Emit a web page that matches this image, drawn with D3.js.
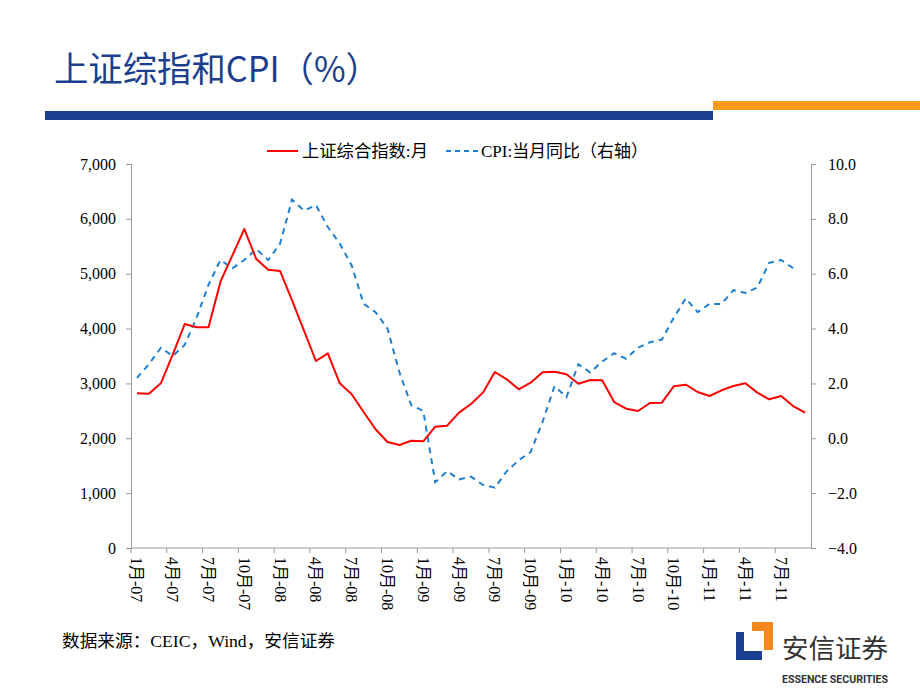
<!DOCTYPE html>
<html><head><meta charset="utf-8">
<script src="https://cdn.jsdelivr.net/npm/d3@7"></script>
<style>
html,body{margin:0;padding:0;background:#fff;}
svg{display:block;}
</style></head>
<body>
<svg id="c" width="920" height="690"></svg>
<script>
// ---- data ----
const years = ["07","08","09","10","11"];
const monthsInLastYear = 9;
const categories = [];
years.forEach((y,i)=>{const n = i===years.length-1 ? monthsInLastYear : 12; for(let m=1;m<=n;m++) categories.push(m+"月-"+y);});

const shIndex = [
  2820, 2813, 3002, 3524, 4083, 4023, 4023, 4855, 5335, 5815, 5268, 5074,
  5049, 4515, 3962, 3409, 3549, 3002, 2802, 2479, 2164, 1932, 1877, 1956,
  1944, 2212, 2230, 2467, 2625, 2832, 3208, 3075, 2893, 3014, 3202, 3214,
  3166, 2995, 3062, 3057, 2661, 2540, 2497, 2643, 2649, 2948, 2977, 2844,
  2771, 2875, 2953, 3002, 2832, 2710, 2771, 2588, 2467
];
const cpi = [
  2.2, 2.7, 3.3, 3.0, 3.4, 4.4, 5.6, 6.5, 6.2, 6.5, 6.9, 6.5,
  7.1, 8.7, 8.3, 8.5, 7.7, 7.1, 6.3, 4.9, 4.6, 4.0, 2.4, 1.2,
  1.0, -1.6, -1.2, -1.5, -1.4, -1.7, -1.8, -1.2, -0.8, -0.5, 0.6, 1.9,
  1.5, 2.7, 2.4, 2.8, 3.1, 2.9, 3.3, 3.5, 3.6, 4.4, 5.1, 4.6,
  4.9, 4.9, 5.4, 5.3, 5.5, 6.4, 6.5, 6.2
];
const leftTicks = [0,1000,2000,3000,4000,5000,6000,7000];
const rightTicks = [-4,-2,0,2,4,6,8,10];
const title = "上证综指和CPI（%）";
const legendLabels = ["上证综合指数:月", "CPI:当月同比（右轴）"];
const source = "数据来源：CEIC，Wind，安信证券";

// ---- layout ----
const svg = d3.select("#c");
const L = 131, R = 811, T = 164, B = 548;
const serif = "'Liberation Serif','Times New Roman','Noto Sans CJK SC',serif";

// header
svg.append("text").attr("x",54).attr("y",82).attr("fill","#1b3f8e")
  .attr("textLength",326).attr("lengthAdjust","spacingAndGlyphs")
  .style("font-family","'Noto Sans CJK SC',sans-serif").style("font-size","35px").style("font-weight","400")
  .text(title);
svg.append("rect").attr("x",45).attr("y",111).attr("width",668).attr("height",9).attr("fill","#1b3f8e");
svg.append("rect").attr("x",713).attr("y",101).attr("width",207).attr("height",9).attr("fill","#f99b1c");

// scales
const x = d3.scaleBand().domain(categories).range([L,R]).padding(0);
const cx = d => x(d)+x.bandwidth()/2;
const yL = d3.scaleLinear().domain([0,7000]).range([B,T]);
const yR = d3.scaleLinear().domain([-4,10]).range([B,T]);

// axes
const axisColor = "#9a9a9a";
const gL = svg.append("g").attr("transform",`translate(${L},0)`)
  .call(d3.axisLeft(yL).tickValues(leftTicks).tickFormat(d3.format(",")).tickSize(5).tickPadding(10));
const gR = svg.append("g").attr("transform",`translate(${R},0)`)
  .call(d3.axisRight(yR).tickValues(rightTicks).tickFormat(d3.format(".1f")).tickSize(5).tickPadding(12));
[gL,gR].forEach(g=>{
  g.select(".domain").attr("stroke",axisColor);
  g.selectAll(".tick line").attr("stroke",axisColor);
  g.selectAll(".tick text").attr("fill","#000").style("font-family",serif).style("font-size","16px");
});
gR.selectAll(".tick text").attr("text-anchor","start");

// bottom axis: ticks at quarter boundaries
const gB = svg.append("g");
gB.append("line").attr("x1",L).attr("x2",R).attr("y1",B).attr("y2",B).attr("stroke",axisColor);
const qb = categories.filter((d,i)=>i%3===0);
gB.selectAll("line.t").data(qb).enter().append("line").attr("class","t")
  .attr("x1",d=>x(d)).attr("x2",d=>x(d)).attr("y1",B).attr("y2",B+5).attr("stroke",axisColor);
gB.selectAll("text").data(qb).enter().append("text")
  .attr("transform",d=>`translate(${cx(d)},${B+9}) rotate(90)`)
  .attr("dominant-baseline","central").attr("text-anchor","start")
  .style("font-family",serif).style("font-size","16px").attr("fill","#000")
  .text(d=>d);

// lines
const lineL = d3.line().x((d,i)=>cx(categories[i])).y(d=>yL(d));
const lineR = d3.line().x((d,i)=>cx(categories[i])).y(d=>yR(d));
svg.append("path").datum(cpi).attr("d",lineR).attr("fill","none")
  .attr("stroke","#1f7fd2").attr("stroke-width",2).attr("stroke-dasharray","6,5");
svg.append("path").datum(shIndex).attr("d",lineL).attr("fill","none")
  .attr("stroke","#ff0000").attr("stroke-width",2).attr("stroke-linejoin","round");

// legend
const lg = svg.append("g");
lg.append("line").attr("x1",267).attr("x2",298).attr("y1",151).attr("y2",151).attr("stroke","#ff0000").attr("stroke-width",2);
lg.append("text").attr("x",302).attr("y",151).attr("dominant-baseline","central")
  .attr("textLength",126).attr("lengthAdjust","spacingAndGlyphs")
  .style("font-family",serif).style("font-size","17px").text(legendLabels[0]);
lg.append("line").attr("x1",446).attr("x2",478).attr("y1",151).attr("y2",151).attr("stroke","#1f7fd2").attr("stroke-width",2).attr("stroke-dasharray","5,4");
lg.append("text").attr("x",481).attr("y",151).attr("dominant-baseline","central")
  .attr("textLength",167).attr("lengthAdjust","spacingAndGlyphs")
  .style("font-family",serif).style("font-size","17px").text(legendLabels[1]);

// footer
svg.append("text").attr("x",62).attr("y",647)
  .attr("textLength",273).attr("lengthAdjust","spacingAndGlyphs")
  .style("font-family",serif).style("font-size","17px").text(source);

// logo
const lgo = svg.append("g");
lgo.append("path").attr("d","M736,632 H744 V651 H762 V660 H736 Z").attr("fill","#1b3f8e");
lgo.append("path").attr("d","M752,622 H773 V650 H764 V631 H752 Z").attr("fill","#f5891f");
lgo.append("text").attr("x",782).attr("y",658).attr("fill","#333")
  .attr("textLength",106).attr("lengthAdjust","spacingAndGlyphs")
  .style("font-family","'Noto Sans CJK SC',sans-serif").style("font-size","26px").text("安信证券");
lgo.append("text").attr("x",782).attr("y",683).attr("fill","#333").attr("textLength",106).attr("lengthAdjust","spacingAndGlyphs")
  .style("font-family","'Liberation Sans Narrow','Roboto',sans-serif").style("font-size","11px").style("font-weight","bold").text("ESSENCE SECURITIES");
</script>
</body></html>
